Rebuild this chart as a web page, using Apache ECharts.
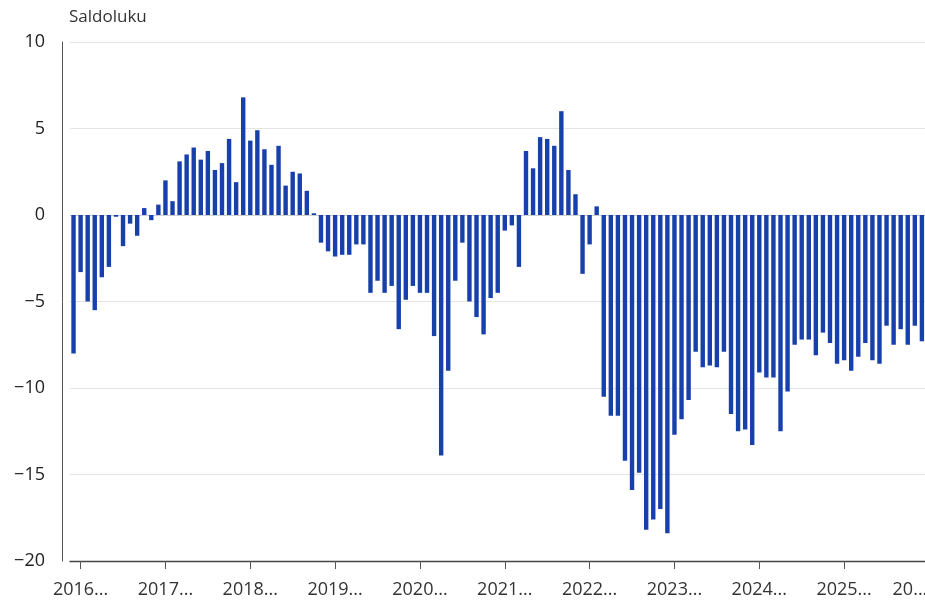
<!DOCTYPE html>
<html>
<head>
<meta charset="utf-8">
<title>Saldoluku</title>
<script src="https://cdn.jsdelivr.net/npm/echarts@6/dist/echarts.min.js"></script>
<style>
    html, body { margin: 0; padding: 0; background: #fff; }
    #chart { width: 925px; height: 600px; }
</style>
</head>
<body>
<div id="chart"></div>
<script>
// kuukaudet: 2015M12 ... 2026M01
var firstMonth = '2015M12';
var years = [2016, 2017, 2018, 2019, 2020, 2021, 2022, 2023, 2024, 2025];
var lastMonth = '2026M01';

// saldoluvut kuukausittain (luettu kuvasta), viimeiselle ei arvoa
var saldo = [
    -8.0,
    -3.3, -5.0, -5.5, -3.6, -3.0, -0.1, -1.8, -0.5, -1.2, 0.4, -0.3, 0.6,
    2.0, 0.8, 3.1, 3.5, 3.9, 3.2, 3.7, 2.6, 3.0, 4.4, 1.9, 6.8,
    4.3, 4.9, 3.8, 2.9, 4.0, 1.7, 2.5, 2.4, 1.4, 0.1, -1.6, -2.1,
    -2.4, -2.3, -2.3, -1.7, -1.7, -4.5, -3.8, -4.5, -4.1, -6.6, -4.9, -4.1,
    -4.5, -4.5, -7.0, -13.9, -9.0, -3.8, -1.6, -5.0, -5.9, -6.9, -4.8, -4.5,
    -0.9, -0.6, -3.0, 3.7, 2.7, 4.5, 4.4, 4.0, 6.0, 2.6, 1.2, -3.4,
    -1.7, 0.5, -10.5, -11.6, -11.6, -14.2, -15.9, -14.9, -18.2, -17.6, -17.0, -18.4,
    -12.7, -11.8, -10.7, -7.9, -8.8, -8.7, -8.8, -7.9, -11.5, -12.5, -12.4, -13.3,
    -9.1, -9.4, -9.4, -12.5, -10.2, -7.5, -7.2, -7.2, -8.1, -6.8, -7.4, -8.6,
    -8.4, -9.0, -8.2, -7.4, -8.4, -8.6, -6.4, -7.5, -6.6, -7.5, -6.4, -7.3,
    null
];

var months = [firstMonth];
years.forEach(function (y) {
    for (var m = 1; m <= 12; m++) {
        months.push(y + 'M' + (m < 10 ? '0' + m : m));
    }
});
months.push(lastMonth);

var font = '"Open Sans", "Noto Sans", sans-serif';
var janOnly = function (index) { return index % 12 === 1; };

var chart = echarts.init(document.getElementById('chart'));
chart.setOption({
    animation: false,
    title: {
        text: 'Saldoluku',
        left: 64,
        top: 4,
        textStyle: { fontSize: 17, fontWeight: 'normal', color: '#333', fontFamily: font }
    },
    // viimeinen kuukausi jää kuvan oikean reunan yli
    grid: { left: 70, right: -7.5, top: 42, bottom: 39, outerBoundsMode: 'none' },
    xAxis: {
        type: 'category',
        data: months,
        boundaryGap: true,
        axisLine: { onZero: false, lineStyle: { color: '#444', width: 1.3 } },
        axisTick: {
            show: true,
            alignWithLabel: true,
            interval: janOnly,
            length: 8,
            lineStyle: { color: '#555', width: 1 }
        },
        axisLabel: {
            interval: janOnly,
            margin: 20,
            fontSize: 18,
            color: '#333',
            fontFamily: font,
            formatter: function (value, index) {
                // katkaistut nimet kuten kuvassa
                if (index === months.length - 1) {
                    return '{e|' + value.slice(0, 2) + '...}';
                }
                return value.slice(0, 4) + '...';
            },
            rich: {
                e: { fontSize: 18, color: '#333', fontFamily: font, padding: [0, 38, 0, 0] }
            }
        }
    },
    yAxis: {
        type: 'value',
        min: -20,
        max: 10,
        interval: 5,
        offset: 8,
        axisLine: { show: true, lineStyle: { color: '#555', width: 1 } },
        axisTick: { show: false },
        axisLabel: {
            margin: 17,
            fontSize: 18,
            color: '#222',
            fontFamily: font,
            formatter: function (v) { return String(v).replace('-', '\u2212'); }
        },
        splitLine: {
            lineStyle: {
                // -20, -15, -10, -5, 0, 5, 10
                color: ['#e4e4e4', '#e4e4e4', '#e4e4e4', '#e4e4e4', '#cfcfcf', '#e4e4e4', '#e4e4e4'],
                width: 1
            }
        }
    },
    series: [
        {
            name: 'Saldoluku',
            type: 'bar',
            data: saldo,
            barWidth: 4.4,
            itemStyle: { color: '#1840aa' },
            silent: true
        }
    ]
});
</script>
</body>
</html>
